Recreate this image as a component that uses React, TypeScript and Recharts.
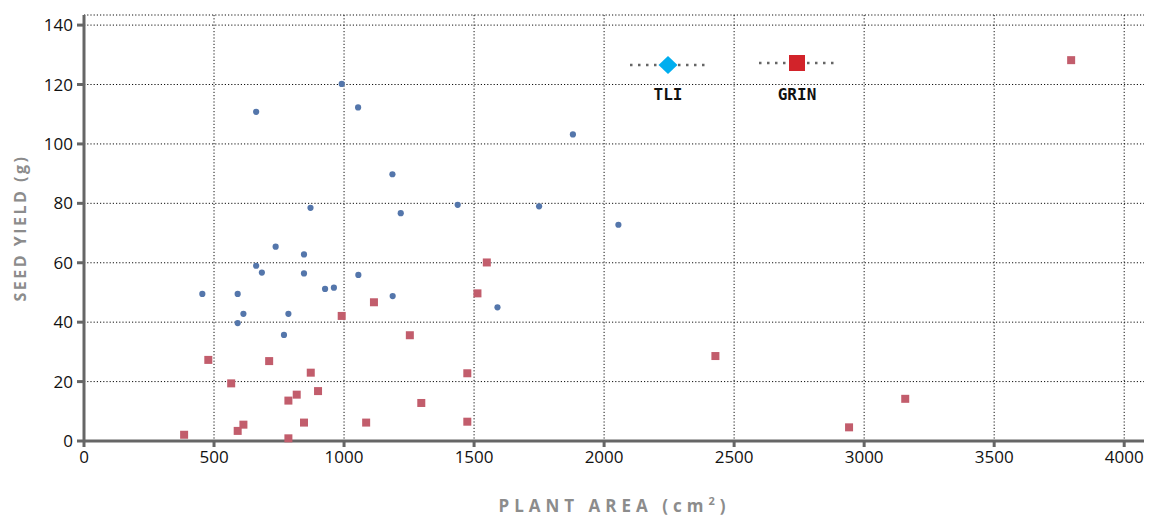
import { CartesianGrid, Label, Scatter, ScatterChart, XAxis, YAxis } from "recharts";

// TLI accessions: plant area (cm²) and seed yield (g)
const tliArea = [455, 591, 662, 991, 1054, 1880, 1186, 871, 1218, 1437, 1750, 2055, 737, 846, 662, 684, 846, 1055, 927, 961, 1187, 1590, 613, 786, 591, 769];
const tliYield = [49.5, 49.5, 110.8, 120.2, 112.3, 103.2, 89.8, 78.5, 76.7, 79.5, 79.0, 72.8, 65.4, 62.8, 59.0, 56.7, 56.4, 55.9, 51.2, 51.6, 48.8, 45.0, 42.8, 42.8, 39.7, 35.7];

// GRIN accessions
const grinArea = [1549, 1513, 1115, 991, 1253, 478, 712, 872, 1474, 566, 900, 818, 786, 1297, 846, 1085, 1474, 613, 591, 385, 786, 2428, 2942, 3158, 3796];
const grinYield = [60.1, 49.7, 46.7, 42.1, 35.6, 27.3, 26.9, 23.0, 22.8, 19.4, 16.8, 15.6, 13.6, 12.8, 6.2, 6.2, 6.5, 5.5, 3.4, 2.1, 0.9, 28.6, 4.6, 14.2, 128.2];

const xTicks = [0, 500, 1000, 1500, 2000, 2500, 3000, 3500, 4000];
const yTicks = [0, 20, 40, 60, 80, 100, 120, 140];

const tliData = tliArea.map((area, i) => ({ area, yield: tliYield[i] }));
const grinData = grinArea.map((area, i) => ({ area, yield: grinYield[i] }));

const tickStyle = { fontFamily: "Open Sans", fontSize: 17, fill: "#111" };
const axisLine = { stroke: "#666", strokeWidth: 3 };

const TliDot = (props: any) => <circle cx={props.cx} cy={props.cy} r={3.1} fill="#5476ab" />;
const GrinSquare = (props: any) => (
  <rect x={props.cx - 4} y={props.cy - 4} width={8} height={8} fill="#c25d6c" />
);

function XTitle(props: any) {
  const { x, y, width } = props.viewBox;
  return (
    <text
      x={x + width / 2}
      y={y + 71}
      textAnchor="middle"
      fontFamily="Open Sans"
      fontWeight={700}
      fontSize={17}
      letterSpacing={5}
      fill="#8c8c8c"
    >
      PLANT AREA (cm<tspan dy={-7} fontSize={11}>2</tspan>
      <tspan dy={7}>)</tspan>
    </text>
  );
}

function YTitle(props: any) {
  const { y, height } = props.viewBox;
  const cy = y + height / 2;
  return (
    <text
      x={12}
      y={cy}
      transform={`rotate(-90, 12, ${cy})`}
      textAnchor="middle"
      dominantBaseline="central"
      fontFamily="Open Sans"
      fontWeight={700}
      fontSize={16}
      letterSpacing={2.5}
      fill="#8c8c8c"
    >
      SEED YIELD (g)
    </text>
  );
}

function SeriesKey() {
  const label = { fontFamily: "DejaVu Sans Mono", fontWeight: 700, fontSize: 16, fill: "#111" };
  return (
    <svg width={240} height={62} style={{ position: "absolute", left: 610, top: 37 }}>
      <line x1={12} y1={20} x2={88} y2={20} stroke="#666" strokeWidth={2.5} strokeDasharray="2.5 5.5" />
      <polygon points="50,11 59.5,20 50,29 40.5,20" fill="#00aeef" />
      <text x={50} y={55} textAnchor="middle" {...label}>TLI</text>
      <line x1={141} y1={18} x2={217} y2={18} stroke="#666" strokeWidth={2.5} strokeDasharray="2.5 5.5" />
      <rect x={171} y={10} width={16} height={16} fill="#d2232a" />
      <text x={179} y={55} textAnchor="middle" {...label}>GRIN</text>
    </svg>
  );
}

export default function App() {
  return (
    <div style={{ position: "relative", width: 1144, height: 513 }}>
      <ScatterChart width={1144} height={513} margin={{ top: 7, right: 7, left: 0, bottom: 0 }}>
        <CartesianGrid stroke="#111" strokeDasharray="1.2 2" />
        <XAxis
          type="number"
          dataKey="area"
          domain={[0, 4080]}
          ticks={xTicks}
          height={80}
          tick={tickStyle}
          tickSize={6}
          tickMargin={4}
          axisLine={axisLine}
          tickLine={axisLine}
        >
          <Label content={XTitle} />
        </XAxis>
        <YAxis
          type="number"
          dataKey="yield"
          domain={[0, 143.4]}
          ticks={yTicks}
          width={76}
          tick={tickStyle}
          tickSize={7}
          tickMargin={4}
          axisLine={axisLine}
          tickLine={axisLine}
        >
          <Label content={YTitle} />
        </YAxis>
        <Scatter name="TLI" data={tliData} shape={TliDot} isAnimationActive={false} />
        <Scatter name="GRIN" data={grinData} shape={GrinSquare} isAnimationActive={false} />
      </ScatterChart>
      <SeriesKey />
    </div>
  );
}
